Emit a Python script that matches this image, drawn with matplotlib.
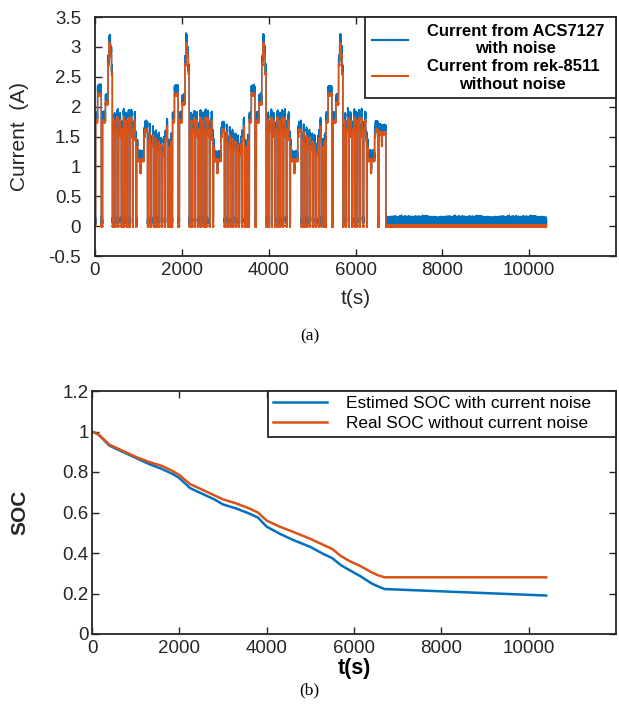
import numpy as np
import matplotlib
matplotlib.use("Agg")
import matplotlib.pyplot as plt
from matplotlib.ticker import FuncFormatter

plt.rcParams['font.family'] = ['Liberation Sans', 'DejaVu Sans']

# ----- 数据 -----
# one cycle of the load profile: step durations (s) and current (A)
cycle_dur = [15, 45, 85, 30, 65, 60, 25, 30, 25, 20, 20,
             25, 15, 20, 30, 20, 15, 25, 15, 20, 20, 30, 15, 15,
             25, 15, 15, 30, 15, 20, 25, 15, 20, 15, 30, 15, 20, 15, 20,
             60, 20, 70, 20, 60, 20,
             30, 15, 20, 35, 15, 15, 30, 15, 20, 35, 15, 15,
             30, 15, 20, 35, 15, 15, 30, 20, 15, 40, 20, 25]
cycle_amp = [0.0, 1.75, 2.2, 0.0, 1.75, 2.05, 2.7, 3.05, 2.85, 2.55, 0.0,
             1.55, 1.75, 0.0, 1.6, 1.8, 0.0, 1.55, 1.75, 1.5, 0.0, 1.6, 1.8, 0.0,
             1.55, 1.75, 0.0, 1.6, 1.8, 0.0, 1.55, 1.8, 1.5, 0.0, 1.6, 1.75, 1.45, 0.0, 1.3,
             1.1, 0.9, 1.1, 1.5, 1.6, 0.0,
             1.4, 1.55, 0.0, 1.35, 1.5, 0.0, 1.3, 1.45, 0.0, 1.3, 1.4, 0.0,
             1.25, 1.35, 0.0, 1.2, 1.35, 0.0, 1.45, 1.65, 0.0, 1.3, 0.0, 1.4]
n_cycles = 4
last_cycle_len = 1230          # 4th cycle stops after the 1.6 A step
tail_dur = [60, 15, 85]
tail_amp = [1.55, 1.35, 1.55]
t_end = 10400                   # rest until the end of the test

# sensor noise (A)
noise_acs = [0.02, -0.03, 0.05, -0.01, 0.03, -0.05, 0.01, 0.04, -0.02, 0.06,
             -0.04, 0.0, 0.03, -0.06, 0.02, 0.05, -0.03, 0.01, -0.05, 0.04,
             0.07, -0.02, -0.04, 0.02, 0.0, -0.06, 0.03, 0.05, -0.01, -0.03,
             0.04, -0.05, 0.02, 0.06, -0.02, 0.01, -0.04, 0.03, 0.0, -0.07]
noise_rek = [0.005, -0.01, 0.015, -0.005, 0.0, -0.015, 0.01, 0.02, -0.01, 0.005,
             -0.02, 0.01, 0.0, -0.005, 0.015, -0.01, 0.02, -0.015, 0.005, -0.02,
             0.01, 0.0, -0.01, 0.025, -0.005, 0.01, -0.02, 0.005, 0.015, -0.01, 0.0]
acs_offset = 0.09

# SOC curves of panel (b)
t_soc = [0, 150, 400, 700, 1000, 1300, 1600, 1850, 2000, 2250, 2500, 2800, 3000,
         3300, 3600, 3800, 4000, 4300, 4600, 5000, 5300, 5500, 5700, 5900, 6150,
         6400, 6550, 6700, 10400]
soc_real = [1.0, 0.985, 0.935, 0.905, 0.875, 0.85, 0.83, 0.805, 0.785, 0.74, 0.715,
            0.685, 0.665, 0.645, 0.62, 0.60, 0.56, 0.53, 0.505, 0.47, 0.44, 0.42,
            0.385, 0.36, 0.335, 0.305, 0.29, 0.28, 0.28]
soc_est = [1.0, 0.985, 0.93, 0.90, 0.87, 0.84, 0.815, 0.79, 0.77, 0.72, 0.695,
           0.665, 0.64, 0.62, 0.595, 0.575, 0.53, 0.495, 0.465, 0.43, 0.395, 0.375,
           0.34, 0.315, 0.285, 0.25, 0.235, 0.222, 0.19]

# ----- 构造电流序列 (1 s 采样) -----
one_cycle = np.repeat(cycle_amp, cycle_dur)
profile = np.concatenate([one_cycle] * (n_cycles - 1) + [one_cycle[:last_cycle_len],
                          np.repeat(tail_amp, tail_dur)])
i_rek = np.concatenate([profile, np.zeros(t_end - len(profile))])
t = np.arange(len(i_rek))
i_rek = i_rek + np.resize(noise_rek, len(i_rek))
i_acs = i_rek + acs_offset + np.resize(noise_acs, len(i_rek))

blue = '#0072BD'
orange = '#D95319'
dark = '#262626'


def style(ax, ypad):
    ax.tick_params(direction='in', top=True, right=True, length=5, width=1,
                   colors=dark, labelsize=13.5)
    ax.tick_params(axis='y', pad=ypad)
    ax.tick_params(axis='x', pad=4.5)
    for s in ax.spines.values():
        s.set_linewidth(1.3)
        s.set_color(dark)
    ax.yaxis.set_major_formatter(FuncFormatter(lambda v, p: '%g' % round(v, 2)))
    ax.set_xlim(0, 12000)
    ax.set_xticks([0, 2000, 4000, 6000, 8000, 10000])


fig = plt.figure(figsize=(6.19, 7.07), dpi=100)

# ----- (a) 电流 -----
ax1 = fig.add_axes([95 / 619, 1 - 256 / 707, 521 / 619, 239 / 707])
ax1.plot(t, i_acs, color=blue, lw=1.1, label='Current from ACS7127\nwith noise')
ax1.plot(t, i_rek, color=orange, lw=1.1, label='Current from rek-8511\nwithout noise')
style(ax1, 10)
ax1.set_ylim(-0.5, 3.5)
ax1.set_yticks(np.arange(-0.5, 3.51, 0.5))
ax1.set_ylabel('Current  (A)', fontsize=15, color=dark)
ax1.yaxis.label.set_va('center')
ax1.yaxis.set_label_coords(-0.144, 0.5)
ax1.set_xlabel('t(s)', fontsize=15, color=dark)
ax1.xaxis.set_label_coords(0.5, -0.176)
ax1.xaxis.label.set_va('center')
leg1 = ax1.legend(loc='upper right', bbox_to_anchor=(0.518, 0.665, 0.482, 0.335),
                  mode='expand', borderaxespad=0,
                  prop={'weight': 'bold', 'size': 12}, fancybox=False, edgecolor=dark,
                  framealpha=1, handlelength=2.2, handletextpad=1.1, labelspacing=0.2,
                  borderpad=0.4)
leg1.get_frame().set_linewidth(1.3)
for txt in leg1.get_texts():
    txt.set_multialignment('center')
for ln in leg1.get_lines():
    ln.set_linewidth(1.5)

# ----- (b) SOC -----
ax2 = fig.add_axes([92 / 619, 1 - 634 / 707, 524 / 619, 243 / 707])
ax2.plot(t_soc, soc_est, color=blue, lw=1.8, label='Estimed SOC with current noise')
ax2.plot(t_soc, soc_real, color=orange, lw=1.8, label='Real SOC without current noise')
style(ax2, 2.5)
ax2.set_ylim(0, 1.2)
ax2.set_yticks(np.arange(0, 1.21, 0.2))
ax2.set_ylabel('SOC', fontsize=15, fontweight='bold', color=dark)
ax2.yaxis.label.set_va('center')
ax2.yaxis.set_label_coords(-0.137, 0.5)
ax2.set_xlabel('t(s)', fontsize=15.5, fontweight='bold', color='black')
ax2.xaxis.set_label_coords(0.5, -0.14)
ax2.xaxis.label.set_va('center')
leg2 = ax2.legend(loc='upper right', bbox_to_anchor=(0.336, 0.79, 0.664, 0.21),
                  mode='expand', borderaxespad=0,
                  prop={'size': 12.4}, fancybox=False, edgecolor=dark, framealpha=1,
                  handlelength=3.1, handletextpad=1.1, labelspacing=0.3, borderpad=0.3)
leg2.get_frame().set_linewidth(1.3)

fig.text(0.5, 1 - 336 / 707, '(a)', ha='center', va='center', fontsize=12.5,
         family=['Liberation Serif', 'DejaVu Serif'])
fig.text(0.5, 1 - 690 / 707, '(b)', ha='center', va='center', fontsize=12.5,
         family=['Liberation Serif', 'DejaVu Serif'])

fig.savefig('out.png', dpi=100)
